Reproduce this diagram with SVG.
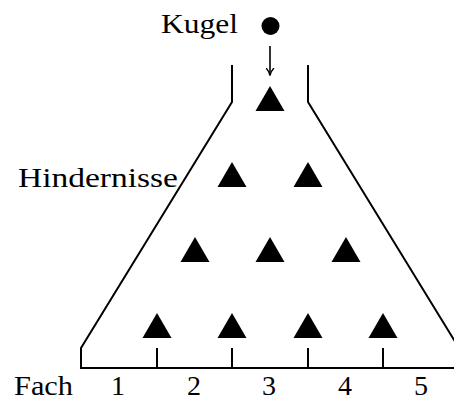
<svg xmlns="http://www.w3.org/2000/svg" width="454" height="403" viewBox="0 0 454 403">
<style>
.t{font-family:"Liberation Serif",serif;font-size:28px;fill:#000}
.l{fill:none;stroke:#000;stroke-width:2}
.o{fill:#000}
</style>
<defs>
<marker id="ah" markerWidth="8" markerHeight="9" refX="7" refY="4.5" orient="auto" markerUnits="userSpaceOnUse">
<path d="M0,0.5 Q3,3.5 7.5,4.5 Q3,5.5 0,8.5" fill="none" stroke="#000" stroke-width="1.4"/>
</marker>
<polygon id="tri" points="0,0 14.5,25 -14.5,25"/>
</defs>
<rect width="454" height="403" fill="#fff"/>
<g id="funnel">
<path class="l" d="M232,65 V102 L81,348 V368 H460"/>
<path class="l" d="M308,65 V102 L459,348"/>
<path class="l" d="M157,348 V368 M232,348 V368 M308,348 V368 M383,348 V368"/>
</g>
<g id="kugel">
<circle class="o" cx="270.5" cy="26" r="9"/>
<text class="t" x="161" y="33" textLength="77" lengthAdjust="spacingAndGlyphs">Kugel</text>
</g>
<g id="connectors">
<line x1="270" y1="46" x2="270" y2="75" stroke="#000" stroke-width="1.6" marker-end="url(#ah)"/>
</g>
<g id="hindernisse">
<text class="t" x="18" y="187" textLength="160" lengthAdjust="spacingAndGlyphs">Hindernisse</text>
<use href="#tri" x="270" y="86"/>
<use href="#tri" x="232" y="162"/>
<use href="#tri" x="308" y="162"/>
<use href="#tri" x="195" y="237"/>
<use href="#tri" x="270" y="237"/>
<use href="#tri" x="346" y="237"/>
<use href="#tri" x="157" y="313"/>
<use href="#tri" x="232" y="313"/>
<use href="#tri" x="308" y="313"/>
<use href="#tri" x="383" y="313"/>
</g>
<g id="fach">
<text class="t" x="14" y="395" textLength="59" lengthAdjust="spacingAndGlyphs">Fach</text>
<text class="t" x="118" y="395" text-anchor="middle">1</text>
<text class="t" x="194" y="395" text-anchor="middle">2</text>
<text class="t" x="269" y="395" text-anchor="middle">3</text>
<text class="t" x="345" y="395" text-anchor="middle">4</text>
<text class="t" x="421" y="395" text-anchor="middle">5</text>
</g>
</svg>
